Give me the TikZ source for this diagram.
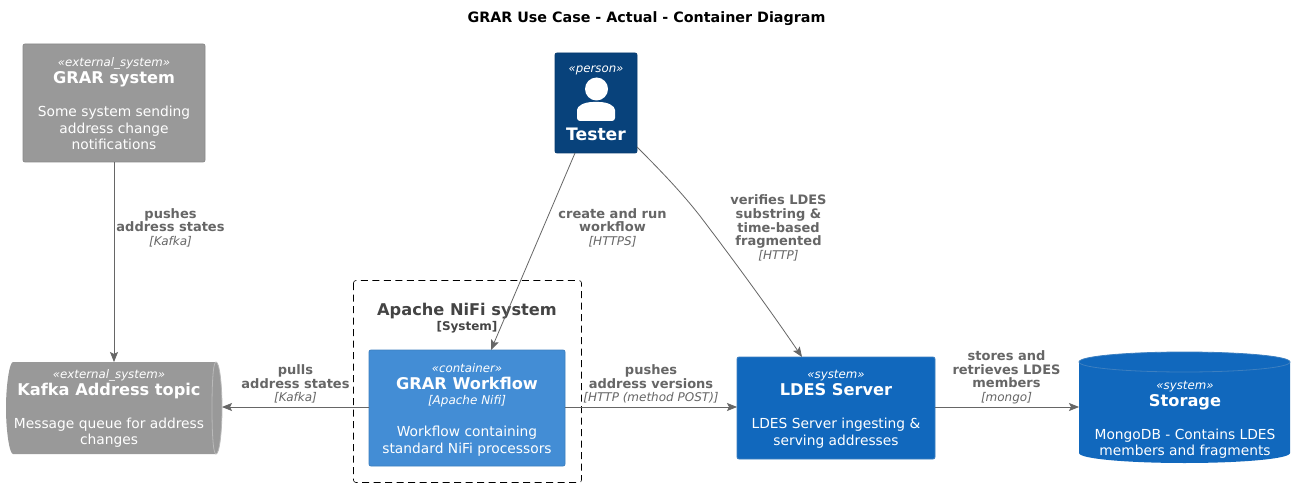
\documentclass[tikz,border=0pt]{standalone}
\usepackage{fontspec}
\setmainfont{DejaVu Sans}
\usetikzlibrary{arrows.meta}
\definecolor{extgray}{HTML}{999999}
\definecolor{extline}{HTML}{8A8A8A}
\definecolor{persblue}{HTML}{08427B}
\definecolor{persline}{HTML}{073B6F}
\definecolor{contblue}{HTML}{438DD5}
\definecolor{contline}{HTML}{3C7FC0}
\definecolor{sysblue}{HTML}{1168BD}
\definecolor{sysline}{HTML}{3C7FC0}
\definecolor{edgegray}{HTML}{666666}
\definecolor{boundtext}{HTML}{444444}
\newcommand{\fstereo}{\fontsize{11.8}{14}\selectfont\itshape}
\newcommand{\fttl}{\fontsize{16.2}{17}\selectfont\bfseries}
\newcommand{\fdesc}{\fontsize{13.8}{16.5}\selectfont}
\newcommand{\ftech}{\fontsize{12}{13.5}\selectfont\itshape}
\newcommand{\felab}{\fontsize{13}{13.5}\selectfont\bfseries}
\newcommand{\fixedlead}[1]{\fontsize{10}{#1}\selectfont\lineskiplimit=-100pt\relax}
\tikzset{
  x=1pt,y=-1pt,
  card/.style={rounded corners=2pt,line width=0.8pt,inner sep=0pt,outer sep=0pt,anchor=north west},
  slot/.style={inner sep=0pt,outer sep=0pt,anchor=north west},
  cardtext/.style={text=white,align=center,inner sep=0pt,font=\fixedlead{16.5}},
  edgelabel/.style={text=edgegray,align=center,inner sep=0pt,font=\fixedlead{13.6}},
  conn/.style={draw=edgegray,line width=0.8pt,-{Stealth[length=10pt,width=8pt,inset=2pt]}},
}
\begin{document}
\begin{tikzpicture}
\useasboundingbox (0,0) rectangle (1305,486);
\fill[white] (0,0) rectangle (1305,486);

\node[inner sep=0pt,anchor=center] (title) at (646.5,19) {\fontsize{14.3}{15}\selectfont\bfseries GRAR Use Case - Actual - Container Diagram};

% boundary
\draw[dash pattern=on 7pt off 4.5pt,line width=0.6pt,rounded corners=2.5pt,draw=black] (353.5,280.5) rectangle (581.5,482.5);
\node[inner sep=0pt,text=boundtext,align=center,font=\fixedlead{15}] (nifi) at (467,318.5) {\fttl Apache NiFi system\\\fontsize{12}{13}\selectfont\bfseries [System]};

% GRAR system
\node[card,fill=extgray,draw=extline,minimum width=182pt,minimum height=118pt] (grar) at (23,44) {};
\node[cardtext] (grartext) at (114,104) {\fstereo «external\_system»\\[0.5pt]\fttl GRAR system\\[16.5pt]\fdesc Some system sending\\\fdesc address change\\\fdesc notifications};

% Tester
\node[card,fill=persblue,draw=persline,minimum width=82pt,minimum height=100pt] (tester) at (555,53) {};
\node[cardtext] (pers) at (596,70.5) {\fstereo «person»};
\fill[white] (596.5,89) circle (11.5);
\fill[white,rounded corners=3pt] (577,121) -- (577,113) .. controls (577,106) and (584,102) .. (596,102) .. controls (608,102) and (615,106) .. (615,113) -- (615,121) -- cycle;
\node[cardtext] (testername) at (596,134) {\fontsize{17.2}{18}\selectfont\bfseries Tester};

% Workflow
\node[card,fill=contblue,draw=contline,minimum width=196pt,minimum height=116pt] (flow) at (369,350) {};
\node[cardtext] (flowtext) at (467,410) {\fstereo «container»\\[0.5pt]\fttl GRAR Workflow\\[-1.5pt]\ftech [Apache Nifi]\\[15.5pt]\fdesc Workflow containing\\\fdesc standard NiFi processors};

% LDES
\node[card,fill=sysblue,draw=sysline,minimum width=198pt,minimum height=102pt] (ldes) at (737,357) {};
\node[cardtext] (ldestext) at (836,409.5) {\fstereo «system»\\[0.5pt]\fttl LDES Server\\[16.5pt]\fdesc LDES Server ingesting \&\\\fdesc serving addresses};

% Kafka queue
\fill[extgray] (13,362) -- (216,362) .. controls (219.5,362) and (222,385) .. (222,408) .. controls (222,431) and (219.5,454) .. (216,454) -- (13,454) .. controls (9.5,454) and (6,431) .. (6,408) .. controls (6,385) and (9.5,362) .. (13,362) -- cycle;
\draw[extline!60!white,line width=0.8pt] (216,362) .. controls (219.5,362) and (222,385) .. (222,408) .. controls (222,431) and (219.5,454) .. (216,454) .. controls (213,454) and (212,431) .. (212,408) .. controls (212,385) and (213,362) .. (216,362);
\node[slot,minimum width=216pt,minimum height=92pt] (kafka) at (6,362) {};
\node[cardtext] (kafkatext) at (109,408.5) {\fstereo «external\_system»\\[0.5pt]\fttl Kafka Address topic\\[16.5pt]\fdesc Message queue for address\\\fdesc changes};

% Storage
\fill[sysblue] (1079,362) .. controls (1079,356) and (1130,352) .. (1184.5,352) .. controls (1239,352) and (1290,356) .. (1290,362) -- (1290,453) .. controls (1290,459) and (1239,463) .. (1184.5,463) .. controls (1130,463) and (1079,459) .. (1079,453) -- cycle;
\draw[sysline,line width=0.8pt] (1079,362) .. controls (1079,368) and (1130,372) .. (1184.5,372) .. controls (1239,372) and (1290,368) .. (1290,362) .. controls (1290,356) and (1239,352) .. (1184.5,352) .. controls (1130,352) and (1079,356) .. (1079,362);
\node[slot,minimum width=211pt,minimum height=111pt] (storage) at (1079,352) {};
\node[cardtext] (storagetext) at (1185,420) {\fstereo «system»\\[0.5pt]\fttl Storage\\[16.5pt]\fdesc MongoDB - Contains LDES\\\fdesc members and fragments};

% connectors
\coordinate (tl) at (575,153);
\coordinate (wt) at (491,350);
\coordinate (tr) at (637,147);
\coordinate (lt) at (802,357);
\draw[conn] (grar.south) -- (kafka.north -| grar.south);
\draw[conn] (tl) -- (wt);
\draw[conn] (tr) .. controls (662,172) and (682,193) .. (700,216) .. controls (735,262) and (770,310) .. (lt);
\draw[conn] ([yshift=1pt]flow.west |- kafka.east) -- ([yshift=1pt]kafka.east);
\draw[conn] ([yshift=1pt]flow.east |- ldes.center) -- ([yshift=1pt]ldes.west |- ldes.center);
\draw[conn] ([yshift=1pt]ldes.east |- ldes.center) -- ([yshift=1pt]storage.west |- ldes.center);

% labels
\node[edgelabel] (l1) at (170.5,227.5) {\felab pushes\\\felab address states\\\ftech [Kafka]};
\node[edgelabel] (l2) at (612.5,227.5) {\felab create and run\\\felab workflow\\\ftech [HTTPS]};
\node[edgelabel] (l3) at (778.5,228) {\felab verifies LDES\\\felab substring \&\\\felab time-based\\\felab fragmented\\\ftech [HTTP]};
\node[edgelabel] (l4) at (295.5,384) {\felab pulls\\\felab address states\\\ftech [Kafka]};
\node[edgelabel] (l5) at (651,384) {\felab pushes\\\felab address versions\\\ftech [HTTP (method POST)]};
\node[edgelabel] (l6) at (1006.5,377.5) {\felab stores and\\\felab retrieves LDES\\\felab members\\\ftech [mongo]};
\end{tikzpicture}
\end{document}
